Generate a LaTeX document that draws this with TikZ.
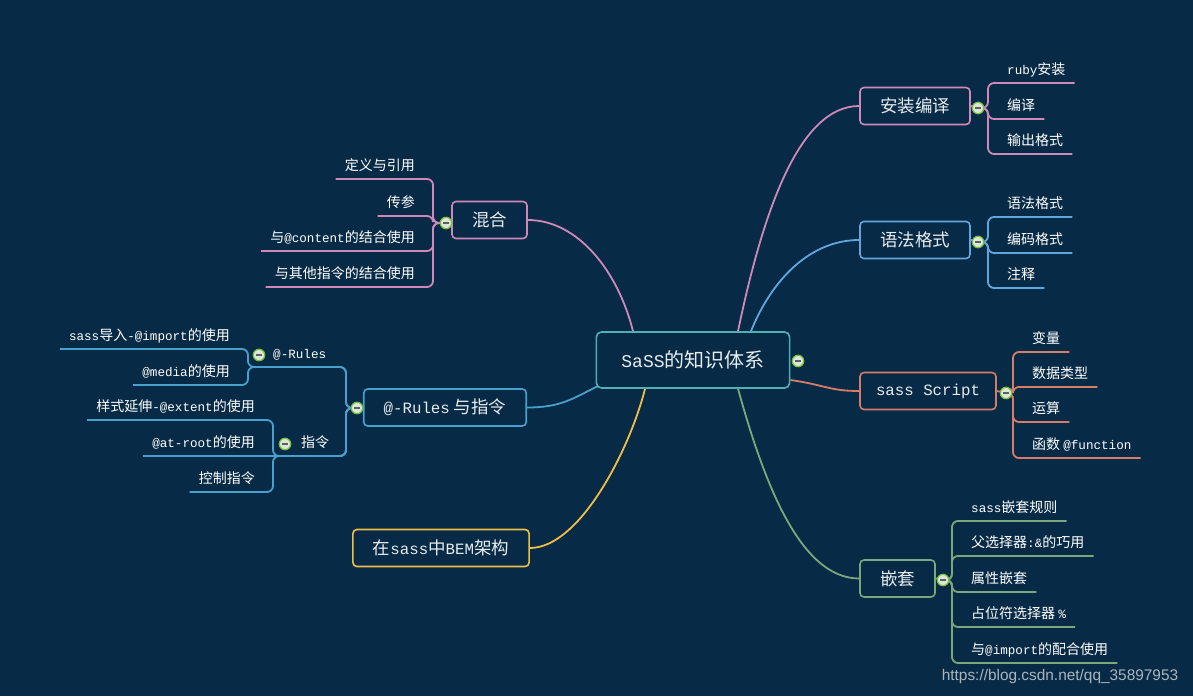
\documentclass[tikz,border=0pt]{standalone}
\usepackage{fontspec}
\setmainfont{Noto Sans CJK SC}
\newfontfamily\enfont[Scale=0.9]{Liberation Mono}
\newfontfamily\wmfont{Liberation Sans}
\newcommand{\code}[1]{{\enfont #1}}
\usepackage{tikz}
\usetikzlibrary{backgrounds}
\usepackage{xcolor}
\definecolor{bgblue}{RGB}{7,43,70}
\definecolor{boxtext}{RGB}{232,236,238}
\definecolor{cteal}{RGB}{78,176,178}
\definecolor{cpink}{RGB}{206,136,186}
\definecolor{clblue}{RGB}{98,166,224}
\definecolor{csalmon}{RGB}{214,124,104}
\definecolor{cgreen}{RGB}{122,168,122}
\definecolor{cblue}{RGB}{72,160,204}
\definecolor{cyellow}{RGB}{240,190,72}
\definecolor{foldgreen}{RGB}{118,190,58}
\definecolor{foldfill}{RGB}{222,230,216}
\definecolor{foldminus}{RGB}{88,98,98}
\definecolor{wmgray}{RGB}{170,180,190}
\tikzstyle{topic} = [draw, rounded corners=4pt, line width=1.6pt, fill=bgblue, text=boxtext, font=\fontsize{17.5}{20}\selectfont, inner xsep=20pt, minimum height=37pt]
\tikzstyle{leaf} = [inner xsep=9pt, inner ysep=5pt, text height=10pt, text depth=3pt, text=white, font=\fontsize{14}{16}\selectfont]
\tikzstyle{fold} = [circle, draw=foldgreen, fill=foldfill, line width=1.2pt, minimum size=11.5pt, inner sep=0pt, path picture={\draw[line width=1.6pt, foldminus] ([xshift=-3pt]path picture bounding box.center) -- ([xshift=3pt]path picture bounding box.center);}]
\tikzstyle{branch} = [line width=1.8pt, rounded corners=6pt]
\tikzstyle{curve} = [line width=1.8pt]

\begin{document}
\begin{tikzpicture}[x=1pt,y=-1pt]
\useasboundingbox (0,0) rectangle (1193,696);

% Central topic
\node[topic, draw=cteal, rounded corners=5pt, inner xsep=25pt, minimum height=56pt, font=\fontsize{20}{24}\selectfont] (sass) at (693,360) {\code{SaSS}的知识体系};
\node[fold] (fc) at (798,361) {};

% Right branches
\node[topic, draw=cpink] (install) at (915,106) {安装编译};
\node[fold] (f1) at (978,108) {};
\node[leaf, anchor=south west] (l11) at (998,83) {\code{ruby}安装};
\node[leaf, anchor=south west] (l12) at (998,119) {编译};
\node[leaf, anchor=south west] (l13) at (998,154) {输出格式};

\node[topic, draw=clblue] (grammar) at (915,240) {语法格式};
\node[fold] (f2) at (978,242) {};
\node[leaf, anchor=south west] (l21) at (998,217) {语法格式};
\node[leaf, anchor=south west] (l22) at (998,253) {编码格式};
\node[leaf, anchor=south west] (l23) at (998,288) {注释};

\node[topic, draw=csalmon, inner xsep=16pt] (script) at (928,391) {\code{sass Script}};
\node[fold] (f3) at (1006,393) {};
\node[leaf, anchor=south west] (l31) at (1023,352) {变量};
\node[leaf, anchor=south west] (l32) at (1023,387) {数据类型};
\node[leaf, anchor=south west] (l33) at (1023,422) {运算};
\node[leaf, anchor=south west] (l34) at (1023,458) {函数 \code{@function}};

\node[topic, draw=cgreen] (nest) at (897.5,578.5) {嵌套};
\node[fold] (f4) at (943,580) {};
\node[leaf, anchor=south west] (l41) at (962,521) {\code{sass}嵌套规则};
\node[leaf, anchor=south west] (l42) at (962,556) {父选择器\code{:\&}的巧用};
\node[leaf, anchor=south west] (l43) at (962,592) {属性嵌套};
\node[leaf, anchor=south west] (l44) at (962,627) {占位符选择器 \code{\%}};
\node[leaf, anchor=south west] (l45) at (962,663) {与\code{@import}的配合使用};

% Left branches
\node[topic, draw=cpink] (mixin) at (489.5,220) {混合};
\node[fold] (f5) at (446,223) {};
\node[leaf, anchor=south east] (l51) at (424,179) {定义与引用};
\node[leaf, anchor=south east] (l52) at (424,216) {传参};
\node[leaf, anchor=south east] (l53) at (424,251) {与\code{@content}的结合使用};
\node[leaf, anchor=south east] (l54) at (424,287) {与其他指令的结合使用};

\node[topic, draw=cblue] (rules) at (445,407.5) {\code{@-Rules} 与指令};
\node[fold] (fR) at (357,408) {};
\node[leaf, anchor=south west] (subA) at (264,367) {\code{@-Rules}};
\node[fold] (fA) at (259,355) {};
\node[leaf, anchor=south east] (a1) at (239,349) {\code{sass}导入\code{-@import}的使用};
\node[leaf, anchor=south east] (a2) at (239,385) {\code{@media}的使用};
\node[leaf, anchor=south west] (subB) at (292,456) {指令};
\node[fold] (fB) at (285,444) {};
\node[leaf, anchor=south east] (b1) at (264,420) {样式延伸\code{-@extent}的使用};
\node[leaf, anchor=south east] (b2) at (264,456) {\code{@at-root}的使用};
\node[leaf, anchor=south east] (b3) at (264,492) {控制指令};
\coordinate (jA) at (248,367);
\coordinate (jB) at (273,456);

\node[topic, draw=cyellow] (bem) at (441,548) {在\code{sass}中\code{BEM}架构};

% Watermark
\node[text=wmgray, font=\wmfont\fontsize{15.4}{17}\selectfont] (wm) at (1060,677) {https://blog.csdn.net/qq\_35897953};

\begin{scope}[on background layer]
\fill[bgblue] (0,0) rectangle (1193,696);

% Main curves
\draw[curve, cpink] ([xshift=45pt]sass.north) .. controls +(25,-120) and +(-60,0) .. (install.west);
\draw[curve, clblue] ([xshift=58pt]sass.north) .. controls +(20,-50) and +(-50,0) .. (grammar.west);
\draw[curve, csalmon] ([yshift=-20pt]sass.east) .. controls +(35,5) and +(-30,0) .. (script.west);
\draw[curve, cgreen] ([xshift=45pt]sass.south) .. controls +(25,90) and +(-60,0) .. (nest.west);
\draw[curve, cpink] (mixin.east) .. controls +(50,0) and +(-15,-60) .. ([xshift=-60pt]sass.north);
\draw[curve, cblue] (rules.east) .. controls +(35,0) and +(-25,12) .. ([xshift=3pt,yshift=3pt]sass.south west);
\draw[curve, cyellow] (bem.east) .. controls +(50,0) and +(-15,60) .. ([xshift=-48pt]sass.south);

% Stubs to fold buttons
\draw[curve, cpink] (install.east) -- (f1);
\draw[curve, clblue] (grammar.east) -- (f2);
\draw[curve, csalmon] (script.east) -- (f3);
\draw[curve, cgreen] (nest.east) -- (f4);
\draw[curve, cpink] (mixin.west) -- (f5);
\draw[curve, cblue] (rules.west) -- (fR);

% Brackets
\draw[branch, cpink] (f1.center) -- ++(10,0) |- (l11.south east);
\draw[branch, cpink] (f1.center) -- ++(10,0) |- (l12.south east);
\draw[branch, cpink] (f1.center) -- ++(10,0) |- (l13.south east);
\draw[branch, clblue] (f2.center) -- ++(10,0) |- (l21.south east);
\draw[branch, clblue] (f2.center) -- ++(10,0) |- (l22.south east);
\draw[branch, clblue] (f2.center) -- ++(10,0) |- (l23.south east);
\draw[branch, csalmon] (f3.center) -- ++(7,0) |- (l31.south east);
\draw[branch, csalmon] (f3.center) -- ++(7,0) |- (l32.south east);
\draw[branch, csalmon] (f3.center) -- ++(7,0) |- (l33.south east);
\draw[branch, csalmon] (f3.center) -- ++(7,0) |- (l34.south east);
\draw[branch, cgreen] (f4.center) -- ++(9,0) |- (l41.south east);
\draw[branch, cgreen] (f4.center) -- ++(9,0) |- (l42.south east);
\draw[branch, cgreen] (f4.center) -- ++(9,0) |- (l43.south east);
\draw[branch, cgreen] (f4.center) -- ++(9,0) |- (l44.south east);
\draw[branch, cgreen] (f4.center) -- ++(9,0) |- (l45.south east);
\draw[branch, cpink] (f5.center) -- ++(-13,0) |- (l51.south west);
\draw[branch, cpink] (f5.center) -- ++(-13,0) |- (l52.south west);
\draw[branch, cpink] (f5.center) -- ++(-13,0) |- (l53.south west);
\draw[branch, cpink] (f5.center) -- ++(-13,0) |- (l54.south west);
\draw[branch, cblue] (fR.center) -- ++(-11,0) |- (jA) |- (a1.south west);
\draw[branch, cblue] (fR.center) -- ++(-11,0) |- (jA) |- (a2.south west);
\draw[branch, cblue] (fR.center) -- ++(-11,0) |- (jB) |- (b1.south west);
\draw[branch, cblue] (fR.center) -- ++(-11,0) |- (jB) -- (b2.south west);
\draw[branch, cblue] (fR.center) -- ++(-11,0) |- (jB) |- (b3.south west);
\end{scope}
\end{tikzpicture}
\end{document}
